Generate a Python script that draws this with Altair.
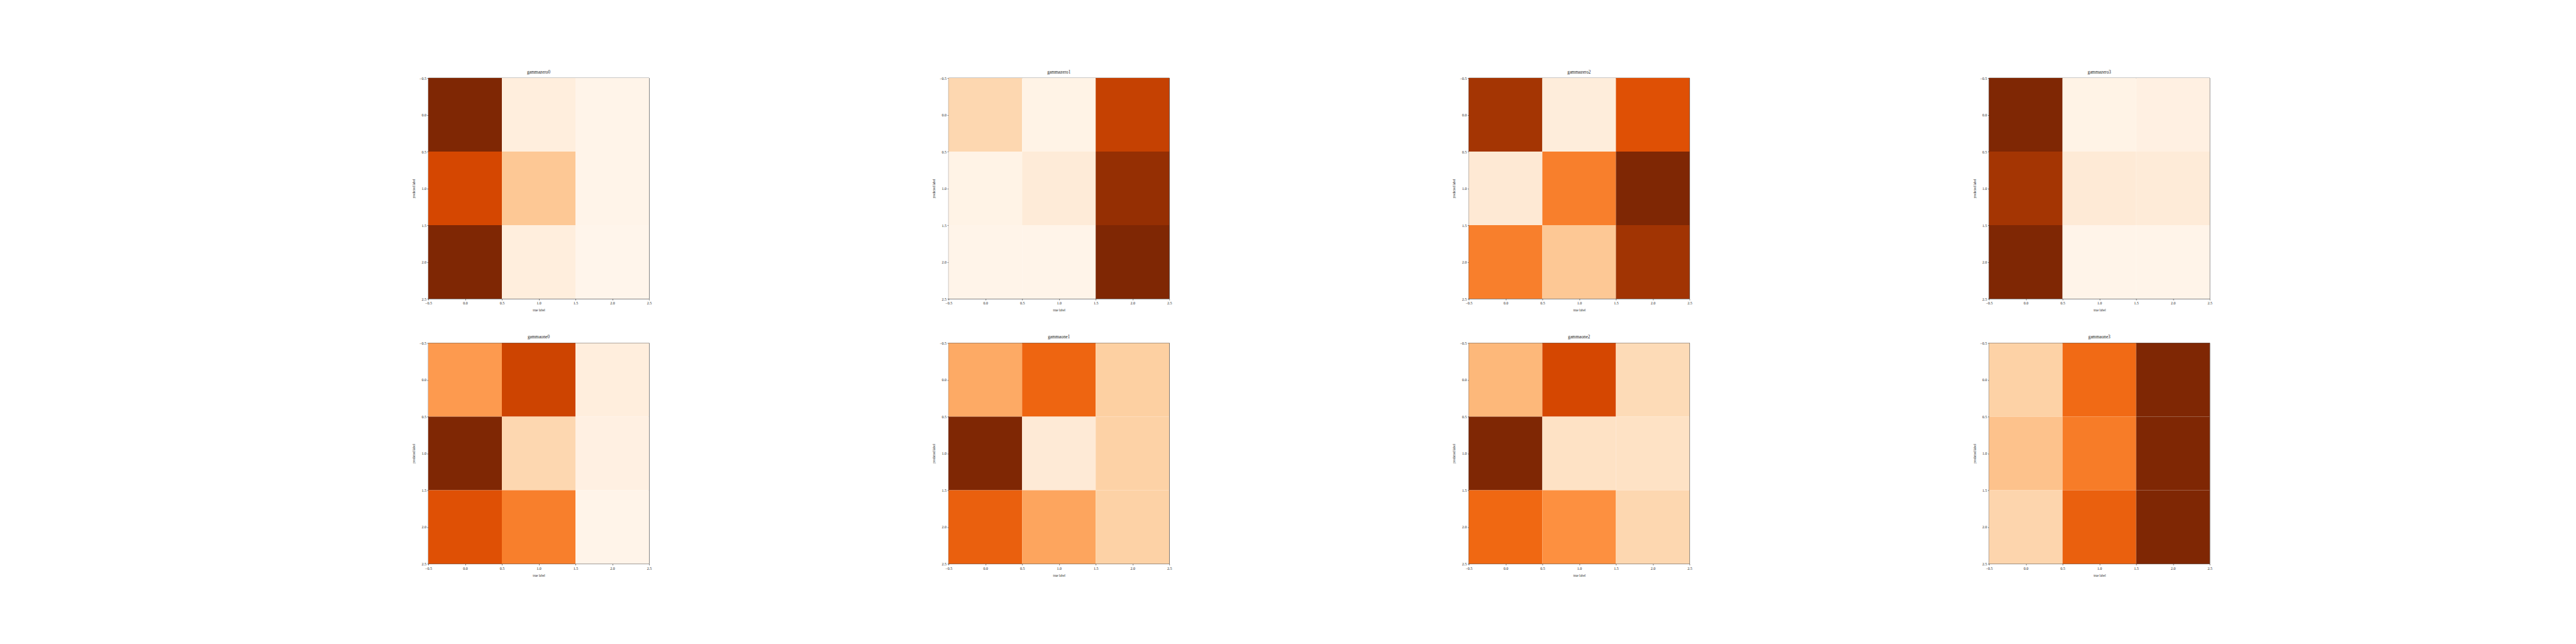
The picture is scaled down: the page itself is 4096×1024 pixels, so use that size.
import altair as alt
import pandas as pd

# ---- data (normalized cell intensities) ----
panel_names = ["gammazero0", "gammazero1", "gammazero2", "gammazero3",
               "gammaone0", "gammaone1", "gammaone2", "gammaone3"]

# each panel: rows = predicted label 0..2, columns = true label 0..2
gammazero0 = [[1.00, 0.06, 0.01],
              [0.76, 0.28, 0.01],
              [1.00, 0.06, 0.00]]
gammazero1 = [[0.21, 0.02, 0.80],
              [0.02, 0.08, 0.93],
              [0.01, 0.01, 1.00]]
gammazero2 = [[0.88, 0.07, 0.72],
              [0.10, 0.55, 1.00],
              [0.55, 0.28, 0.89]]
gammazero3 = [[1.00, 0.02, 0.04],
              [0.88, 0.09, 0.08],
              [1.00, 0.01, 0.01]]
gammaone0 = [[0.45, 0.78, 0.06],
             [1.00, 0.21, 0.04],
             [0.72, 0.55, 0.01]]
gammaone1 = [[0.39, 0.64, 0.25],
             [1.00, 0.09, 0.24],
             [0.66, 0.41, 0.24]]
gammaone2 = [[0.34, 0.76, 0.19],
             [1.00, 0.15, 0.15],
             [0.63, 0.49, 0.21]]
gammaone3 = [[0.24, 0.62, 1.00],
             [0.30, 0.56, 1.00],
             [0.22, 0.66, 1.00]]
matrices = [gammazero0, gammazero1, gammazero2, gammazero3,
            gammaone0, gammaone1, gammaone2, gammaone3]

tick_values = [-0.5, 0.0, 0.5, 1.0, 1.5, 2.0, 2.5]
x_title = "true label"
y_title = "predicted label"

# matplotlib "Oranges" stops
oranges_stops = [0.0, 0.125, 0.25, 0.375, 0.5, 0.625, 0.75, 0.875, 1.0]
oranges_colors = ["#fff5eb", "#fee6ce", "#fdd0a2", "#fdae6b", "#fd8d3c",
                  "#f16913", "#d94801", "#a63603", "#7f2704"]

rows = []
for name, m in zip(panel_names, matrices):
    for r, row in enumerate(m):
        for c, v in enumerate(row):
            rows.append({"panel": name, "true": c, "pred": r, "value": v})
df = pd.DataFrame(rows)

PW = 351
FONT = "Liberation Serif"

xscale = alt.Scale(domain=[-0.5, 2.5], nice=False, zero=False)
yscale = alt.Scale(domain=[-0.5, 2.5], nice=False, zero=False, reverse=True)

common_axis = dict(values=tick_values, format=".1f", grid=False, domain=False,
                   ticks=True, tickSize=2.1, tickWidth=0.5, tickColor="black",
                   labelFont=FONT, labelFontSize=6.0, labelColor="#222222",
                   labelPadding=1.5, labelFlush=False, labelOverlap=False,
                   labelBound=False, titleFont=FONT, titleFontSize=5.2,
                   titleFontWeight="normal", titleColor="#222222")

charts = []
for name in panel_names:
    ch = alt.Chart(df).transform_filter(
        alt.datum.panel == name
    ).transform_calculate(
        x0="datum.true - 0.5", x1="datum.true + 0.5",
        y0="datum.pred - 0.5", y1="datum.pred + 0.5"
    ).mark_rect(strokeWidth=0).encode(
        x=alt.X("x0:Q", scale=xscale,
                axis=alt.Axis(title=x_title, titlePadding=6, **common_axis)),
        x2="x1:Q",
        y=alt.Y("y0:Q", scale=yscale,
                axis=alt.Axis(title=y_title, titlePadding=6, **common_axis)),
        y2="y1:Q",
        color=alt.Color("value:Q", legend=None,
                        scale=alt.Scale(domain=oranges_stops, range=oranges_colors,
                                        interpolate="rgb")),
    ).properties(
        width=PW, height=PW,
        title=alt.TitleParams(name, font=FONT, fontSize=7.2, fontWeight="normal",
                              color="#222222", offset=3, anchor="middle")
    )
    charts.append(ch)

chart = alt.concat(*charts, columns=4, spacing={"row": 70.4, "column": 476.2},
                   bounds="flush").properties(
    padding={"left": 647, "top": 102, "right": 5, "bottom": 5},
    background="white",
).configure_view(stroke="black", strokeWidth=0.7)

chart.save("out.html", embed_options={"renderer": "svg", "actions": False})
